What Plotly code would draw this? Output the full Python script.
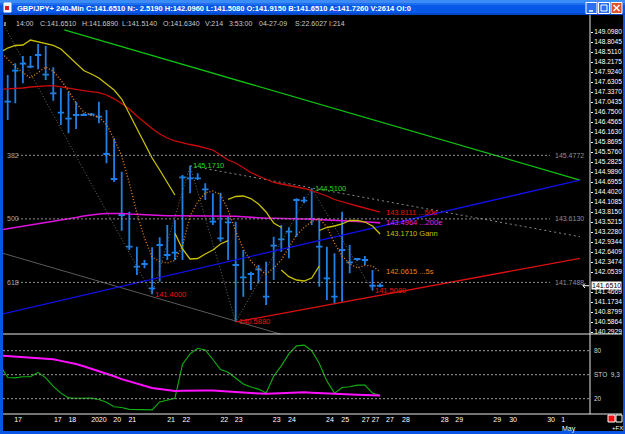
import plotly.graph_objects as go

W, H = 625, 434

# ---------------- data ----------------
bar_idx = list(range(50))
bar_high = [147.836, 148.179, 148.394, 148.394, 148.746, 148.687, 148.062, 147.446, 147.346, 147.052,
            146.721, 146.721, 147.052, 146.809, 145.978, 144.998, 143.824, 142.796, 142.406, 142.779,
            143.072, 143.433, 143.580, 144.901, 145.171, 144.951, 144.657, 144.364, 144.381, 143.677,
            143.530, 142.700, 142.063, 142.260, 142.356, 143.090, 143.433, 143.366, 144.217, 144.264,
            144.510, 143.630, 142.796, 142.603, 143.824, 142.846, 142.465, 142.524, 142.113, 141.722]
bar_low = [146.515, 147.005, 147.592, 148.033, 148.003, 147.689, 147.082, 146.368, 146.125, 146.251,
           146.633, 146.633, 146.418, 145.244, 144.696, 143.266, 142.700, 141.966, 142.163, 141.400,
           141.769, 142.406, 142.406, 142.406, 144.364, 144.754, 144.167, 143.433, 142.943, 142.406,
           140.588, 141.329, 141.526, 141.722, 141.085, 141.819, 142.650, 142.456, 143.090, 144.070,
           143.433, 141.623, 141.232, 141.135, 141.182, 142.016, 142.377, 142.260, 141.508, 141.605]
bar_tick = [147.052, 147.962, 148.168, 148.080, 148.423, 147.845, 147.299, 146.729, 146.553, 146.662,
            146.662, 146.683, 146.612, 145.517, 144.783, 143.727, 142.796, 142.210, 142.289, 141.576,
            142.846, 142.553, 142.620, 144.833, 144.804, 144.804, 144.481, 143.530, 143.043, 143.513,
            142.260, 141.898, 141.995, 142.133, 141.329, 142.826, 143.014, 143.237, 144.167, 144.147,
            143.610, 142.796, 141.869, 141.329, 142.700, 142.339, 142.436, 142.406, 141.651, 141.651]

ma_idx = list(range(-1, 50))
ema50 = [147.416, 147.425, 147.434, 147.454, 147.484, 147.507, 147.519, 147.522, 147.484, 147.437,
         147.407, 147.378, 147.346, 147.319, 147.249, 147.137, 146.999, 146.838, 146.633, 146.442,
         146.266, 146.104, 145.987, 145.899, 145.840, 145.796, 145.752, 145.693, 145.635, 145.488,
         145.341, 145.253, 145.106, 144.974, 144.872, 144.769, 144.681, 144.637, 144.593, 144.558,
         144.505, 144.446, 144.373, 144.285, 144.182, 144.108, 144.050, 143.991, 143.932, 143.874,
         143.8111]
ema200 = [143.287, 143.322, 143.360, 143.395, 143.425, 143.463, 143.507, 143.551, 143.586, 143.618,
          143.654, 143.698, 143.733, 143.756, 143.771, 143.777, 143.771, 143.756, 143.742, 143.727,
          143.718, 143.712, 143.706, 143.706, 143.706, 143.706, 143.706, 143.706, 143.706, 143.706,
          143.706, 143.689, 143.677, 143.659, 143.639, 143.630, 143.630, 143.630, 143.630, 143.618,
          143.609, 143.607, 143.598, 143.580, 143.569, 143.557, 143.545, 143.533, 143.524, 143.516,
          143.4964]
sma5 = [148.526, 148.294, 148.082, 147.909, 147.748, 147.909, 148.071, 147.939, 147.689, 147.366,
        147.014, 146.750, 146.662, 146.603, 146.383, 145.958, 145.459, 144.666, 143.786, 143.052,
        142.494, 142.362, 142.318, 142.392, 142.817, 143.698, 144.108, 144.373, 144.431, 144.329,
        143.874, 143.257, 142.729, 142.377, 142.142, 141.995, 142.171, 142.406, 142.788, 143.140,
        143.360, 143.536, 143.624, 143.375, 142.905, 142.524, 142.303, 142.171, 142.245, 142.230,
        142.0615]

gann_x = [-1, 0, 1, 2, 3, 4, 5, 6, 7, 8, 9, 10, 11, 12, 13, 14, 15, 16, 17, 18, 19, 20, 21, 22, None,
          22, 23, 24, 25, 26, 27, 28, 29, None,
          29, 30, 31, 32, 33, 34, 35, 36, None,
          36, 37, 38, 39, 40, 41, None,
          41, 42, 43, 44, 45, 46, 47, 48, 49]
gann_y = [148.496, 148.628, 148.702, 148.716, 148.863, 148.804, 148.760, 148.702, 148.599, 148.379,
          148.159, 147.968, 147.865, 147.748, 147.572, 147.396, 147.132, 146.691, 146.280, 145.840,
          145.400, 145.048, 144.666, 144.314, None,
          143.190, 142.729, 142.436, 142.450, 142.582, 142.700, 142.876, 142.973, None,
          144.188, 144.270, 144.285, 144.211, 144.050, 143.815, 143.492, 143.360, None,
          142.113, 141.916, 141.819, 141.790, 141.878, 142.230, None,
          143.272, 143.360, 143.404, 143.463, 143.566, 143.566, 143.521, 143.404, 143.171]

sto_k = [61.6, 46.5, 46, 47.5, 47.5, 53, 46, 35.5, 27, 21, 20.5, 20.5, 20.7, 19, 15.5, 10, 9, 6.7, 6.7, 6,
         6, 16, 18.5, 20.5, 63, 76, 83, 81, 69, 56.5, 53, 46, 38.5, 34.5, 32, 27, 48, 61, 76, 86,
         87, 80, 64, 42, 27, 34, 35, 37, 37, 27, 24]
sto_d = [74, 73.4, 72.9, 72.3, 71.8, 71.2, 70.3, 69.3, 67.3, 65.8, 63.4, 60.5, 57.6, 54.6, 51.3, 48,
         44.5, 41.7, 38.9, 36.2, 33.4, 32, 30.7, 29.6, 30, 30.4, 30.8, 30.4, 30.1, 29.7, 29.2, 28.5,
         27.8, 27.1, 26.4, 26.1, 26.5, 26.9, 27.3, 27.7, 28, 27.5, 27, 26.3, 25.6, 25.4, 25.2, 24.9,
         24.6, 24.3, 24]
sto_levels = [80, 50, 20]
sto_level_text = ["80", "STO  9,3", "20"]

green_tl_x, green_tl_y = [7.45, 75.3], [149.157, 144.754]
blue_tl_x, blue_tl_y = [-0.62, 75.3], [140.824, 144.754]
red_tl_x, red_tl_y = [30, 75.3], [140.588, 142.456]
resist_x, resist_y = [24, 75.3], [145.171, 143.090]
channel_x, channel_y = [-0.62, 36], [142.603, 140.225]
zigzag_x = [-0.5, 19, 24, 30, 40, 48]
zigzag_y = [149.30, 141.40, 145.171, 140.588, 144.510, 141.508]

fib_levels = [145.4772, 143.6130, 141.7488]
fib_names = ["382", "500", "618"]

price_ticks = [149.0980, 148.8045, 148.5110, 148.2175, 147.9240, 147.6305, 147.3370, 147.0435,
               146.7500, 146.4565, 146.1630, 145.8695, 145.5760, 145.2825, 144.9890, 144.6955,
               144.4020, 144.1085, 143.8150, 143.5215, 143.2280, 142.9344, 142.6409, 142.3474,
               142.0539, 141.4669, 141.1734, 140.8799, 140.5864, 140.2929]
last_price = 141.6510

date_pos = [1.36, 6.6, 8.5, 11.5, 12.5, 14.4, 16.4, 21.5, 23.5, 28.5, 30.4, 35.4, 37.4, 42.4, 44.4,
            47.1, 48.4, 50.3, 52.4, 57.5, 59.4, 64.4, 66.5, 71.5, 73.1]
date_text = ["17", "17", "18", "20", "20", "20", "21", "21", "22", "22", "23", "23", "24", "24", "25",
             "27", "27", "27", "28", "28", "29", "29", "30", "30", "1"]

swing_labels = [(24, 145.171, "145.1710", "#22dd22"), (40, 144.510, "144.5100", "#22dd22"),
                (19, 141.400, "141.4000", "#ee1111"), (30, 140.588, "140.5880", "#ee1111"),
                (48, 141.508, "141.5080", "#ee1111")]

title_text = ("GBP/JPY+ 240-Min C:141.6510 N:- 2.5190 H:142.0960 L:141.5080 O:141.9150 "
              "B:141.6510 A:141.7260 V:2614 OI:0")
info_items = ["14:00", "C:141.6510", "H:141.6890", "L:141.5140", "O:141.6340", "V:214",
              "3:53:00", "04-27-09", "S:22.6027", "I:214"]

# ---------------- style ----------------
info_px = [14, 38, 80, 120, 161, 203, 227, 257, 293, 327]
FONT = "Liberation Sans"
XR = [-0.618, 76.62]
YR_MAIN = [140.2343, 149.597]


def PX(x):
    return x / W


def PY(y):
    return 1 - y / H


fig = go.Figure()


def line(x, y, color, width=1.2, dash=None, xa="x", ya="y"):
    fig.add_trace(go.Scatter(x=x, y=y, mode="lines", xaxis=xa, yaxis=ya, hoverinfo="skip",
                             line=dict(color=color, width=width, dash=dash), connectgaps=False,
                             showlegend=False))


line(channel_x, channel_y, "#5a5a5a", 1)
line(resist_x, resist_y, "#8a8a8a", 1, "2px,3px")
line(zigzag_x, zigzag_y, "#6a6a6a", 1, "1px,2px")
line(green_tl_x, green_tl_y, "#10c010", 1.3)
line(blue_tl_x, blue_tl_y, "#1010e8", 1.3)
line(red_tl_x, red_tl_y, "#dd1010", 1.3)
line(ma_idx, ema200, "#e010e0", 1.6)
line(ma_idx, ema50, "#cc0a0a", 1.3)

fig.add_trace(go.Ohlc(x=bar_idx, open=bar_tick, high=bar_high, low=bar_low, close=bar_tick,
                      increasing=dict(line=dict(color="#1e80e6", width=1.8)),
                      decreasing=dict(line=dict(color="#1e80e6", width=1.8)),
                      tickwidth=0.42, xaxis="x", yaxis="y", hoverinfo="skip", showlegend=False))

line(gann_x, gann_y, "#c8c000", 1.3)
line(ma_idx, sma5, "#f08010", 1.4, "1px,2px")

line(ma_idx, sto_k, "#10b010", 1.1, None, "x2", "y2")
line(ma_idx, sto_d, "#ff10ff", 2.0, None, "x2", "y2")

shapes = []
annos = []

for lv, nm in zip(fib_levels, fib_names):
    shapes.append(dict(type="line", xref="paper", yref="y", x0=PX(17), x1=PX(550), y0=lv, y1=lv,
                       line=dict(color="#8c8c8c", width=1, dash="2px,2px")))
    annos.append(dict(xref="paper", yref="y", x=PX(5), y=lv, text=nm, showarrow=False,
                      xanchor="left", yanchor="middle", font=dict(family=FONT, size=7, color="#a8a8a8")))
    annos.append(dict(xref="paper", yref="y", x=PX(553), y=lv, text=f"{lv:.4f}", showarrow=False,
                      xanchor="left", yanchor="middle", font=dict(family=FONT, size=7, color="#909090")))

for lv, nm in zip(sto_levels, sto_level_text):
    shapes.append(dict(type="line", xref="paper", yref="y2", x0=PX(3), x1=PX(590), y0=lv, y1=lv,
                       line=dict(color="#9a9a9a", width=1, dash="2px,2px")))
    annos.append(dict(xref="paper", yref="y2", x=PX(592), y=lv, text=nm, showarrow=False,
                      xanchor="left", yanchor="middle", font=dict(family=FONT, size=6.5, color="#d0d0d0")))

for bx, by, txt, col in swing_labels:
    annos.append(dict(xref="x", yref="y", x=bx, y=by, text=txt, showarrow=False, xanchor="left",
                      yanchor="middle", xshift=1, font=dict(family=FONT, size=7.5, color=col)))

end_labels = [(ema50[-1], f"{ema50[-1]:.4f} ...50e", "#ee1111"),
              (ema200[-1], f"{ema200[-1]:.4f} ...200e", "#ee22ee"),
              (gann_y[-1], f"{gann_y[-1]:.4f} Gann", "#c8c000"),
              (sma5[-1], f"{sma5[-1]:.4f} ...5s", "#f08010")]
for vy, txt, col in end_labels:
    annos.append(dict(xref="x", yref="y", x=bar_idx[-1], y=vy, text=txt, showarrow=False,
                      xanchor="left", yanchor="middle", xshift=4, font=dict(family=FONT, size=7.5, color=col)))

annos.append(dict(xref="paper", yref="y", x=PX(606), y=last_price, text=f"{last_price:.4f}",
                  showarrow=False, xanchor="center", yanchor="middle", bgcolor="white",
                  font=dict(family=FONT, size=7, color="black"), borderpad=0))
shapes.append(dict(type="line", xref="paper", yref="y", x0=PX(583), x1=PX(589), y0=last_price, y1=last_price,
                   line=dict(color="white", width=1)))
shapes.append(dict(type="path", xref="paper", yref="paper",
                   path=f"M {PX(585)} {PY(283.5)} L {PX(583)} {PY(285.7)} L {PX(585)} {PY(288)}",
                   line=dict(color="white", width=1)))

for yy in (334, 414):
    shapes.append(dict(type="line", xref="paper", yref="paper", x0=PX(3), x1=PX(622), y0=PY(yy), y1=PY(yy),
                       line=dict(color="#e8e8e8", width=1)))
shapes.append(dict(type="line", xref="paper", yref="paper", x0=PX(590), x1=PX(590), y0=PY(15), y1=PY(414),
                   line=dict(color="#e8e8e8", width=1)))

blue = "#0a55e6"
shapes += [
    dict(type="rect", xref="paper", yref="paper", x0=0, x1=1, y0=PY(15), y1=1, line=dict(width=0), fillcolor="#0858e8"),
    dict(type="rect", xref="paper", yref="paper", x0=0, x1=1, y0=PY(3), y1=1, line=dict(width=0), fillcolor="#3c8cf8"),
    dict(type="rect", xref="paper", yref="paper", x0=0, x1=1, y0=PY(5), y1=PY(3), line=dict(width=0), fillcolor="#1e6ef0"),
    dict(type="rect", xref="paper", yref="paper", x0=0, x1=1, y0=PY(15), y1=PY(13), line=dict(width=0), fillcolor="#0446c8"),
    dict(type="rect", xref="paper", yref="paper", x0=0, x1=PX(3), y0=0, y1=PY(15), line=dict(width=0), fillcolor=blue),
    dict(type="rect", xref="paper", yref="paper", x0=PX(623), x1=1, y0=0, y1=PY(15), line=dict(width=0), fillcolor=blue),
    dict(type="rect", xref="paper", yref="paper", x0=0, x1=1, y0=0, y1=PY(431), line=dict(width=0), fillcolor=blue),
    dict(type="rect", xref="paper", yref="paper", x0=PX(4), x1=PX(11), y0=PY(12), y1=PY(3), line=dict(color="#ffffff", width=1), fillcolor="#f0f0f0"),
    dict(type="rect", xref="paper", yref="paper", x0=PX(5), x1=PX(9), y0=PY(10), y1=PY(6), line=dict(width=0), fillcolor="#d02020"),
    dict(type="rect", xref="paper", yref="paper", x0=PX(586), x1=PX(597), y0=PY(13.5), y1=PY(2.5), line=dict(color="white", width=1), fillcolor="#2a6ff0"),
    dict(type="line", xref="paper", yref="paper", x0=PX(589), x1=PX(593), y0=PY(11), y1=PY(11), line=dict(color="white", width=1.5)),
    dict(type="rect", xref="paper", yref="paper", x0=PX(598.5), x1=PX(609.5), y0=PY(13.5), y1=PY(2.5), line=dict(color="white", width=1), fillcolor="#2a6ff0"),
    dict(type="rect", xref="paper", yref="paper", x0=PX(601), x1=PX(607), y0=PY(11), y1=PY(5), line=dict(color="white", width=1), fillcolor="rgba(0,0,0,0)"),
    dict(type="rect", xref="paper", yref="paper", x0=PX(611), x1=PX(622), y0=PY(13.5), y1=PY(2.5), line=dict(color="white", width=1), fillcolor="#e0512c"),
    dict(type="line", xref="paper", yref="paper", x0=PX(613.5), x1=PX(619.5), y0=PY(11), y1=PY(5), line=dict(color="white", width=1.5)),
    dict(type="line", xref="paper", yref="paper", x0=PX(613.5), x1=PX(619.5), y0=PY(5), y1=PY(11), line=dict(color="white", width=1.5)),
    dict(type="rect", xref="paper", yref="paper", x0=PX(608), x1=PX(615), y0=PY(422), y1=PY(415), line=dict(color="white", width=1), fillcolor="#ee1010"),
    dict(type="rect", xref="paper", yref="paper", x0=PX(616), x1=PX(622), y0=PY(422), y1=PY(415), line=dict(color="white", width=1), fillcolor="black"),
    dict(type="line", xref="paper", yref="paper", x0=PX(5), x1=PX(5), y0=PY(26), y1=PY(22), line=dict(color="white", width=1)),
]

annos.append(dict(xref="paper", yref="paper", x=PX(15), y=PY(8), text="<b>" + title_text + "</b>",
                  showarrow=False, xanchor="left", yanchor="middle",
                  font=dict(family=FONT, size=7.5, color="white")))
for px, t in zip(info_px, info_items):
    annos.append(dict(xref="paper", yref="paper", x=PX(px), y=PY(24), text=t, showarrow=False,
                      xanchor="left", yanchor="middle", font=dict(family=FONT, size=7, color="#c8c8c8")))
annos.append(dict(xref="x2", yref="paper", x=date_pos[-1] + 0.8, y=PY(429), text="May", showarrow=False,
                  xanchor="center", yanchor="middle", font=dict(family=FONT, size=7, color="white")))
annos.append(dict(xref="paper", yref="paper", x=PX(617), y=PY(427.5), text="+FX", showarrow=False,
                  xanchor="center", yanchor="middle", font=dict(family=FONT, size=6, color="white")))

fig.update_layout(
    width=W, height=H, margin=dict(l=0, r=0, t=0, b=0),
    paper_bgcolor="black", plot_bgcolor="black", showlegend=False,
    xaxis=dict(domain=[PX(3), PX(590)], range=XR, anchor="y", showticklabels=False, showgrid=False,
               zeroline=False, showline=False, rangeslider=dict(visible=False), fixedrange=True),
    yaxis=dict(domain=[PY(334), PY(15)], range=YR_MAIN, anchor="x", side="right",
               tickvals=price_ticks, ticktext=[f"{v:.4f}" for v in price_ticks],
               tickfont=dict(family=FONT, size=6.6, color="white"), ticks="outside", ticklen=2,
               tickcolor="white", showgrid=False, zeroline=False, showline=False, automargin=False),
    xaxis2=dict(domain=[PX(3), PX(590)], range=XR, anchor="y2", tickvals=date_pos, ticktext=date_text,
                tickangle=0, tickfont=dict(family=FONT, size=7, color="white"), ticks="", showgrid=False,
                zeroline=False, showline=False, automargin=False),
    yaxis2=dict(domain=[PY(414), PY(334)], range=[0.875, 100.875], anchor="x2", side="right",
                showticklabels=False, showgrid=False, zeroline=False, showline=False),
    shapes=shapes, annotations=annos,
)

fig.write_html("out.html")
